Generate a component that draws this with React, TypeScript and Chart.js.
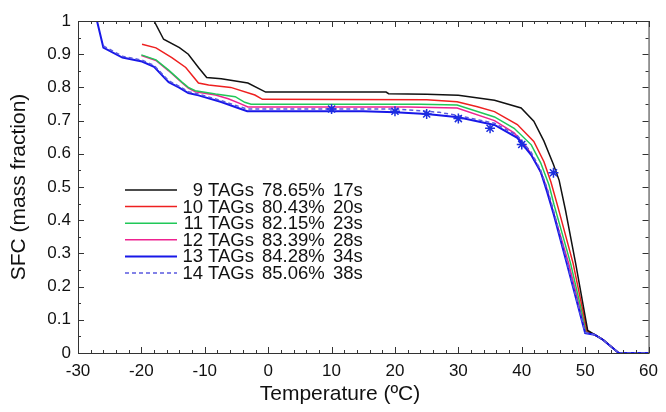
import React, { useEffect, useRef } from "react";
import { Chart, registerables } from "chart.js";

Chart.register(...registerables);

// Simulated solid fat content curves: [temperature °C, SFC mass fraction]
const tags9: [number, number][] = [
  [-18, 1.0], [-16.5, 0.945], [-14, 0.92], [-12.6, 0.9], [-11, 0.86], [-9.7, 0.83],
  [-7.4, 0.826], [-3.2, 0.813], [-0.4, 0.786], [18.6, 0.786], [19, 0.781], [25, 0.779],
  [30, 0.776], [35.7, 0.761], [39.9, 0.738], [41.9, 0.698], [43.5, 0.638], [45, 0.568],
  [45.9, 0.52], [46.9, 0.43], [48.5, 0.27], [50.4, 0.068], [51.5, 0.055], [52.8, 0.04],
  [55.3, 0], [60, 0],
];
const tags10: [number, number][] = [
  [-19.9, 0.93], [-17.7, 0.919], [-15.2, 0.89], [-13, 0.86], [-11, 0.813], [-9.4, 0.807],
  [-5.9, 0.8], [-2.1, 0.777], [-0.9, 0.764], [25, 0.763], [29.8, 0.757], [33, 0.742],
  [35.7, 0.727], [39.3, 0.688], [41.9, 0.637], [43.5, 0.576], [44.6, 0.515], [45.7, 0.44],
  [48.1, 0.27], [50.3, 0.066], [51.5, 0.055], [52.8, 0.04], [55.3, 0], [60, 0],
];
const tags11: [number, number][] = [
  [-20, 0.898], [-17.7, 0.883], [-15.7, 0.852], [-13.6, 0.816], [-12.6, 0.8], [-11.5, 0.79],
  [-8.3, 0.78], [-5.2, 0.772], [-3.7, 0.755], [-2.7, 0.749], [24, 0.749], [29.8, 0.747],
  [35.7, 0.711], [38.8, 0.677], [41.5, 0.627], [43, 0.572], [44.3, 0.506], [45.1, 0.446],
  [47.7, 0.27], [50.2, 0.064], [51.5, 0.055], [52.8, 0.04], [55.3, 0], [60, 0],
];
const tags12: [number, number][] = [
  [-20, 0.896], [-17.7, 0.881], [-15.7, 0.85], [-13.6, 0.814], [-12.6, 0.798], [-11.5, 0.787],
  [-8.3, 0.777], [-6.3, 0.766], [-4.5, 0.752], [-3.2, 0.741], [22, 0.741], [29.8, 0.738],
  [35.7, 0.7], [38.8, 0.663], [40.9, 0.617], [42.7, 0.557], [43.8, 0.506], [44.8, 0.437],
  [47.4, 0.27], [50.1, 0.063], [51.5, 0.055], [52.8, 0.04], [55.3, 0], [60, 0],
];
const tags13: [number, number][] = [
  [-27, 1.0], [-26, 0.92], [-23, 0.89], [-19.9, 0.878], [-18, 0.862], [-15.7, 0.816],
  [-14.1, 0.8], [-12.6, 0.783], [-11, 0.776], [-7.4, 0.756], [-5.2, 0.741], [-3.3, 0.728],
  [15, 0.728], [20, 0.725], [25, 0.72], [30, 0.71], [35.7, 0.687], [39.3, 0.648],
  [41.5, 0.596], [43, 0.545], [44, 0.485], [45, 0.42], [47.1, 0.27], [50, 0.06],
  [51.5, 0.055], [52.8, 0.04], [55.3, 0], [60, 0],
];
const tags14: [number, number][] = [
  [-26, 0.925], [-23, 0.894], [-19.9, 0.882], [-18, 0.866], [-15.7, 0.82], [-14.1, 0.804],
  [-12.6, 0.787], [-11, 0.78], [-7.4, 0.76], [-5.2, 0.746], [-3.3, 0.735], [20, 0.735],
  [27, 0.725], [30, 0.715], [35.7, 0.692], [39.3, 0.655], [41.5, 0.604], [43, 0.55],
  [44.1, 0.49], [45, 0.43], [47.2, 0.27], [50, 0.062], [51.5, 0.055], [52.8, 0.04],
  [55.3, 0], [60, 0],
];

// Experimental SFC measurements
const expTemps = [10, 20, 25, 30, 35, 40, 45];
const expSFC = [0.735, 0.728, 0.72, 0.706, 0.677, 0.628, 0.543];

const seriesNames = ["9 TAGs", "10 TAGs", "11 TAGs", "12 TAGs", "13 TAGs", "14 TAGs"];
const seriesPercent = ["78.65%", "80.43%", "82.15%", "83.39%", "84.28%", "85.06%"];
const seriesTime = ["17s", "20s", "23s", "28s", "34s", "38s"];
const seriesData = [tags9, tags10, tags11, tags12, tags13, tags14];
const seriesColors = ["#111111", "#ee2020", "#20c858", "#ee2290", "#1818e8", "#5a5ae0"];
const seriesWidths = [1.5, 1.5, 1.5, 1.5, 2, 1.5];
const seriesDash = [[], [], [], [], [], [4, 3]];

const xMin = -30, xMax = 60, xStep = 10;
const yMin = 0, yMax = 1, yStep = 0.1;
const xTitle = "Temperature (ºC)";
const yTitle = "SFC (mass fraction)";

const FONT = "Arial, 'Liberation Sans', Helvetica, sans-serif";

const framePlugin = {
  id: "frameTicks",
  afterDatasetsDraw(chart: any) {
    const { ctx, chartArea: a, scales } = chart;
    const xs = scales.x, ys = scales.y;
    ctx.save();
    ctx.strokeStyle = "#333";
    ctx.lineWidth = 1;
    ctx.strokeRect(a.left + 0.5, a.top + 0.5, a.right - a.left, a.bottom - a.top);
    ctx.beginPath();
    for (let v = xMin; v <= xMax + 1e-9; v += 2) {
      const px = Math.round(xs.getPixelForValue(v)) + 0.5;
      const len = Math.abs(v % 10) < 1e-9 ? 6 : 3;
      ctx.moveTo(px, a.bottom);
      ctx.lineTo(px, a.bottom - len);
      ctx.moveTo(px, a.top);
      ctx.lineTo(px, a.top + len);
    }
    for (let i = 0; i <= 20; i++) {
      const v = i * 0.05;
      const py = Math.round(ys.getPixelForValue(v)) + 0.5;
      const len = i % 2 === 0 ? 6 : 3;
      ctx.moveTo(a.left, py);
      ctx.lineTo(a.left + len, py);
      ctx.moveTo(a.right, py);
      ctx.lineTo(a.right - len, py);
    }
    ctx.stroke();
    // x axis title, sitting a little left of the plot centre
    ctx.fillStyle = "#111";
    ctx.font = `21px ${FONT}`;
    ctx.textAlign = "center";
    ctx.textBaseline = "middle";
    ctx.fillText(xTitle, 340, 394);
    ctx.restore();
  },
};

const legendPlugin = {
  id: "tagLegend",
  afterDraw(chart: any) {
    const { ctx } = chart;
    const x1 = 125, x2 = 177, top = 190, row = 16.6;
    ctx.save();
    ctx.font = `18.5px ${FONT}`;
    ctx.fillStyle = "#111";
    ctx.textBaseline = "middle";
    for (let i = 0; i < seriesNames.length; i++) {
      const ds = chart.data.datasets[i];
      const y = top + i * row;
      ctx.save();
      ctx.strokeStyle = ds.borderColor;
      ctx.lineWidth = ds.borderWidth;
      ctx.setLineDash(ds.borderDash || []);
      ctx.beginPath();
      ctx.moveTo(x1, y);
      ctx.lineTo(x2, y);
      ctx.stroke();
      ctx.restore();
      ctx.textAlign = "right";
      ctx.fillText(seriesNames[i], 254, y + 1);
      ctx.textAlign = "left";
      ctx.fillText(seriesPercent[i], 262, y + 1);
      ctx.fillText(seriesTime[i], 333, y + 1);
    }
    ctx.restore();
  },
};

export default function App() {
  const ref = useRef<HTMLCanvasElement | null>(null);

  useEffect(() => {
    document.body.style.margin = "0";
    const canvas = ref.current!;
    const datasets: any[] = seriesData.map((d, i) => ({
      label: seriesNames[i],
      data: d.map(([x, y]) => ({ x, y })),
      showLine: true,
      borderColor: seriesColors[i],
      backgroundColor: seriesColors[i],
      borderWidth: seriesWidths[i],
      borderDash: seriesDash[i],
      pointRadius: 0,
      tension: 0,
      order: i === 4 ? 0 : i === 5 ? -1 : 1,
    }));
    datasets.push({
      label: "Experimental",
      data: expTemps.map((x, i) => ({ x, y: expSFC[i] })),
      showLine: false,
      pointStyle: "star",
      pointRadius: 5,
      borderColor: "#1c2ee0",
      backgroundColor: "#1c2ee0",
      borderWidth: 1.5,
      order: -2,
    });

    const tickFont = { family: FONT, size: 17 };
    const chart = new Chart(canvas, {
      type: "scatter",
      data: { datasets },
      options: {
        animation: false,
        responsive: false,
        layout: { padding: { top: 21, right: 9, left: 0, bottom: 0 } },
        plugins: { legend: { display: false }, tooltip: { enabled: false } },
        scales: {
          x: {
            type: "linear",
            min: xMin,
            max: xMax,
            grid: { display: false, drawTicks: false },
            border: { display: false },
            ticks: { stepSize: xStep, font: tickFont, color: "#111", padding: 8 },
            title: { display: false },
            afterFit: (s: any) => { s.height = 59; },
          },
          y: {
            type: "linear",
            min: yMin,
            max: yMax,
            grid: { display: false, drawTicks: false },
            border: { display: false },
            ticks: {
              stepSize: yStep,
              font: tickFont,
              color: "#111",
              padding: 7,
              callback: (v: any) => String(Number(Number(v).toFixed(1))),
            },
            title: {
              display: true,
              text: yTitle,
              font: { family: FONT, size: 21 },
              color: "#111",
              padding: { top: 7, bottom: 0 },
            },
            afterFit: (s: any) => { s.width = 78; },
          },
        },
      },
      plugins: [framePlugin, legendPlugin],
    });
    return () => chart.destroy();
  }, []);

  return (
    <div style={{ position: "absolute", left: 0, top: 0, width: 666, height: 412, background: "#fff" }}>
      <canvas ref={ref} width={666} height={412} style={{ display: "block" }} />
    </div>
  );
}
